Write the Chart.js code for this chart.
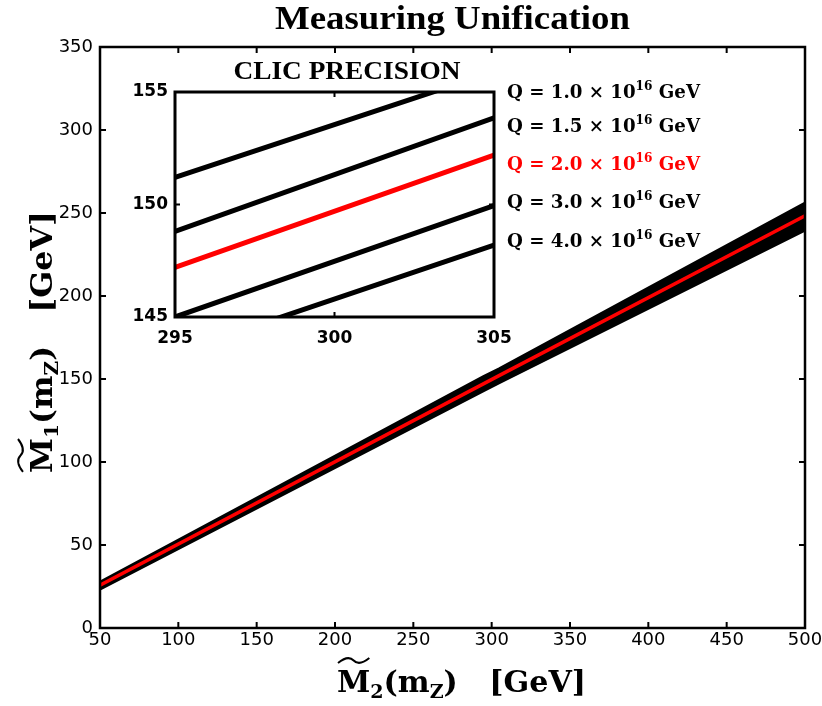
<!DOCTYPE html>
<html>
<head>
<meta charset="utf-8">
<title>Measuring Unification</title>
<script src="https://cdn.jsdelivr.net/npm/chart.js@4.4.1/dist/chart.umd.min.js"></script>
<style>
  body { margin: 0; background: #fff; }
  #wrap { position: relative; width: 822px; height: 706px; }
  canvas { position: absolute; }
</style>
</head>
<body>
<div id="wrap">
  <canvas id="mainChart" width="822" height="706" style="left:0;top:0"></canvas>
  <canvas id="insetChart" width="610" height="300" style="left:110px;top:55px"></canvas>
</div>
<script>
// Data
const m2Points = [50, 295, 305, 500];            // M2(mZ) [GeV]
const m1_q10 = [27.2, 151.2, 155.9, 255.5];       // Q = 1.0e16 GeV
const m1_q15 = [26.5, 148.8, 153.85, 252.0];      // Q = 1.5e16 GeV
const m1_q20 = [25.8, 147.2, 152.2, 248.3];       // Q = 2.0e16 GeV (red)
const m1_q30 = [24.8, 145.0, 149.95, 243.5];      // Q = 3.0e16 GeV
const m1_q40 = [23.8, 143.4, 148.2, 240.0];       // Q = 4.0e16 GeV
const qValues = ['1.0', '1.5', '2.0', '3.0', '4.0'];

const mainXTicks = [50, 100, 150, 200, 250, 300, 350, 400, 450, 500];
const mainYTicks = [0, 50, 100, 150, 200, 250, 300, 350];
const insetXTicks = [295, 300, 305];
const insetYTicks = [145, 150, 155];

const series = [m1_q10, m1_q15, m1_q20, m1_q30, m1_q40];
const RED = '#ff0000';

// band = true : the Q=1.0 curve is filled down to the Q=4.0 curve (main panel)
function makeDatasets(blackW, redW, band) {
  return series.map((vals, i) => ({
    label: 'Q = ' + qValues[i] + ' × 10^16 GeV',
    data: m2Points.map((x, k) => ({ x: x, y: vals[k] })),
    borderColor: i === 2 ? RED : '#000',
    backgroundColor: '#000',
    fill: band && i === 0 ? 4 : false,
    borderWidth: i === 2 ? redW : blackW,
    order: i === 2 ? 0 : 1,   // red on top
    pointRadius: 0,
    tension: 0,
    clip: 0
  }));
}

// draw text squeezed/stretched to a given width
function fitText(ctx, text, x, y, width, align) {
  const w = ctx.measureText(text).width;
  const s = width / w;
  ctx.save();
  ctx.translate(align === 'left' ? x : x - width / 2, y);
  ctx.scale(s, 1);
  ctx.textAlign = 'left';
  ctx.fillText(text, 0, 0);
  ctx.restore();
}

// M~_i(m_Z)  [GeV]  drawn from left baseline (0,0) in current frame
function drawMassLabel(ctx, idx, width) {
  const big = 'bold 30px "DejaVu Serif"';
  const small = 'bold 19px "DejaVu Serif"';
  const parts = [['M', big, 0], [idx, small, 6], ['(m', big, 0], ['Z', small, 6], [')', big, 0], ['   [GeV]', big, 0]];
  let total = 0;
  parts.forEach(p => { ctx.font = p[1]; total += ctx.measureText(p[0]).width; });
  const s = width / total;
  ctx.save();
  ctx.scale(s, 1);
  ctx.fillStyle = '#000';
  ctx.textAlign = 'left';
  ctx.textBaseline = 'alphabetic';
  let cx = 0;
  parts.forEach(p => {
    ctx.font = p[1];
    ctx.fillText(p[0], cx, p[2]);
    cx += ctx.measureText(p[0]).width;
  });
  // wide tilde over the M
  ctx.font = big;
  const mw = ctx.measureText('M').width;
  ctx.beginPath();
  ctx.lineWidth = 2;
  ctx.moveTo(1, -29);
  ctx.bezierCurveTo(mw * 0.25, -35, mw * 0.4, -35, mw * 0.5, -31.5);
  ctx.bezierCurveTo(mw * 0.6, -28, mw * 0.75, -28, mw - 1, -34);
  ctx.strokeStyle = '#000';
  ctx.stroke();
  ctx.restore();
}

function inwardTicks(ctx, a, xs, ys, xVals, yVals, len) {
  ctx.beginPath();
  xVals.forEach(v => {
    const px = xs.getPixelForValue(v);
    ctx.moveTo(px, a.bottom); ctx.lineTo(px, a.bottom - len);
    ctx.moveTo(px, a.top); ctx.lineTo(px, a.top + len);
  });
  yVals.forEach(v => {
    const py = ys.getPixelForValue(v);
    ctx.moveTo(a.left, py); ctx.lineTo(a.left + len, py);
    ctx.moveTo(a.right, py); ctx.lineTo(a.right - len, py);
  });
  ctx.stroke();
}

const mainDecor = {
  id: 'mainDecor',
  afterDraw(chart) {
    const { ctx, chartArea: a, scales: { x, y } } = chart;
    ctx.save();
    ctx.strokeStyle = '#000';
    ctx.lineWidth = 2;
    inwardTicks(ctx, a, x, y, mainXTicks, mainYTicks, 6);
    ctx.lineWidth = 2.5;
    ctx.strokeRect(a.left, a.top, a.right - a.left, a.bottom - a.top);

    // title
    ctx.fillStyle = '#000';
    ctx.font = 'bold 33px "Liberation Serif"';
    ctx.textBaseline = 'alphabetic';
    fitText(ctx, 'Measuring Unification', (a.left + a.right) / 2, 29, 355, 'center');

    // x title
    ctx.save();
    ctx.translate(337, 692);
    drawMassLabel(ctx, '2', 249);
    ctx.restore();

    // y title
    ctx.save();
    ctx.translate(52, 473);
    ctx.rotate(-Math.PI / 2);
    drawMassLabel(ctx, '1', 262);
    ctx.restore();
    ctx.restore();
  }
};

const insetDecor = {
  id: 'insetDecor',
  afterDraw(chart) {
    const { ctx, chartArea: a, scales: { x, y } } = chart;
    ctx.save();
    ctx.strokeStyle = '#000';
    ctx.lineWidth = 2;
    inwardTicks(ctx, a, x, y, [300], [150], 5);
    ctx.lineWidth = 3;
    ctx.strokeRect(a.left, a.top, a.right - a.left, a.bottom - a.top);

    // title
    ctx.fillStyle = '#000';
    ctx.font = 'bold 25px "Liberation Serif"';
    ctx.textBaseline = 'alphabetic';
    fitText(ctx, 'CLIC PRECISION', 237, 24, 227, 'center');

    // legend
    const baselines = [43, 77, 115, 153, 192];
    const big = 'bold 18px "DejaVu Serif"';
    const sup = 'bold 12px "DejaVu Serif"';
    qValues.forEach((q, i) => {
      const parts = [['Q = ' + q + ' × 10', big, 0], ['16', sup, -8], [' GeV', big, 0]];
      let total = 0;
      parts.forEach(p => { ctx.font = p[1]; total += ctx.measureText(p[0]).width; });
      ctx.save();
      ctx.translate(a.right + 13, baselines[i]);
      ctx.scale(193 / total, 1);
      ctx.fillStyle = i === 2 ? RED : '#000';
      ctx.textAlign = 'left';
      let cx = 0;
      parts.forEach(p => {
        ctx.font = p[1];
        ctx.fillText(p[0], cx, p[2]);
        cx += ctx.measureText(p[0]).width;
      });
      ctx.restore();
    });
    ctx.restore();
  }
};

function axis(min, max, tickVals, font, pad, fit) {
  return {
    type: 'linear', min: min, max: max,
    afterBuildTicks: s => { s.ticks = tickVals.map(v => ({ value: v })); },
    ticks: { font: font, color: '#000', padding: pad, maxRotation: 0, autoSkip: false },
    grid: { display: false, drawTicks: false },
    border: { display: false },
    afterFit: fit
  };
}

// main chart
new Chart(document.getElementById('mainChart'), {
  type: 'line',
  data: { datasets: makeDatasets(4, 3.5, true) },
  options: {
    responsive: false,
    animation: false,
    layout: { padding: { left: 0, right: 17, top: 47, bottom: 0 } },
    plugins: { legend: { display: false }, title: { display: false }, tooltip: { enabled: false }, filler: { propagate: false } },
    scales: {
      x: axis(50, 500, mainXTicks, { family: 'DejaVu Sans', size: 18 }, 2, s => { s.height = 78; s.paddingLeft = 0; s.paddingRight = 0; }),
      y: axis(0, 350, mainYTicks, { family: 'DejaVu Sans', size: 18 }, 7, s => { s.width = 100; s.paddingTop = 0; s.paddingBottom = 0; })
    }
  },
  plugins: [mainDecor]
});

// inset: CLIC precision zoom
new Chart(document.getElementById('insetChart'), {
  type: 'line',
  data: { datasets: makeDatasets(5, 5, false) },
  options: {
    responsive: false,
    animation: false,
    layout: { padding: { left: 0, right: 226, top: 37, bottom: 0 } },
    plugins: { legend: { display: false }, title: { display: false }, tooltip: { enabled: false } },
    scales: {
      x: axis(295, 305, insetXTicks, { family: 'DejaVu Sans', size: 17, weight: 'bold' }, 11, s => { s.height = 38; s.paddingLeft = 0; s.paddingRight = 0; }),
      y: axis(145, 155, insetYTicks, { family: 'DejaVu Sans', size: 17, weight: 'bold' }, 7, s => { s.width = 65; s.paddingTop = 0; s.paddingBottom = 0; })
    }
  },
  plugins: [insetDecor]
});
</script>
</body>
</html>
